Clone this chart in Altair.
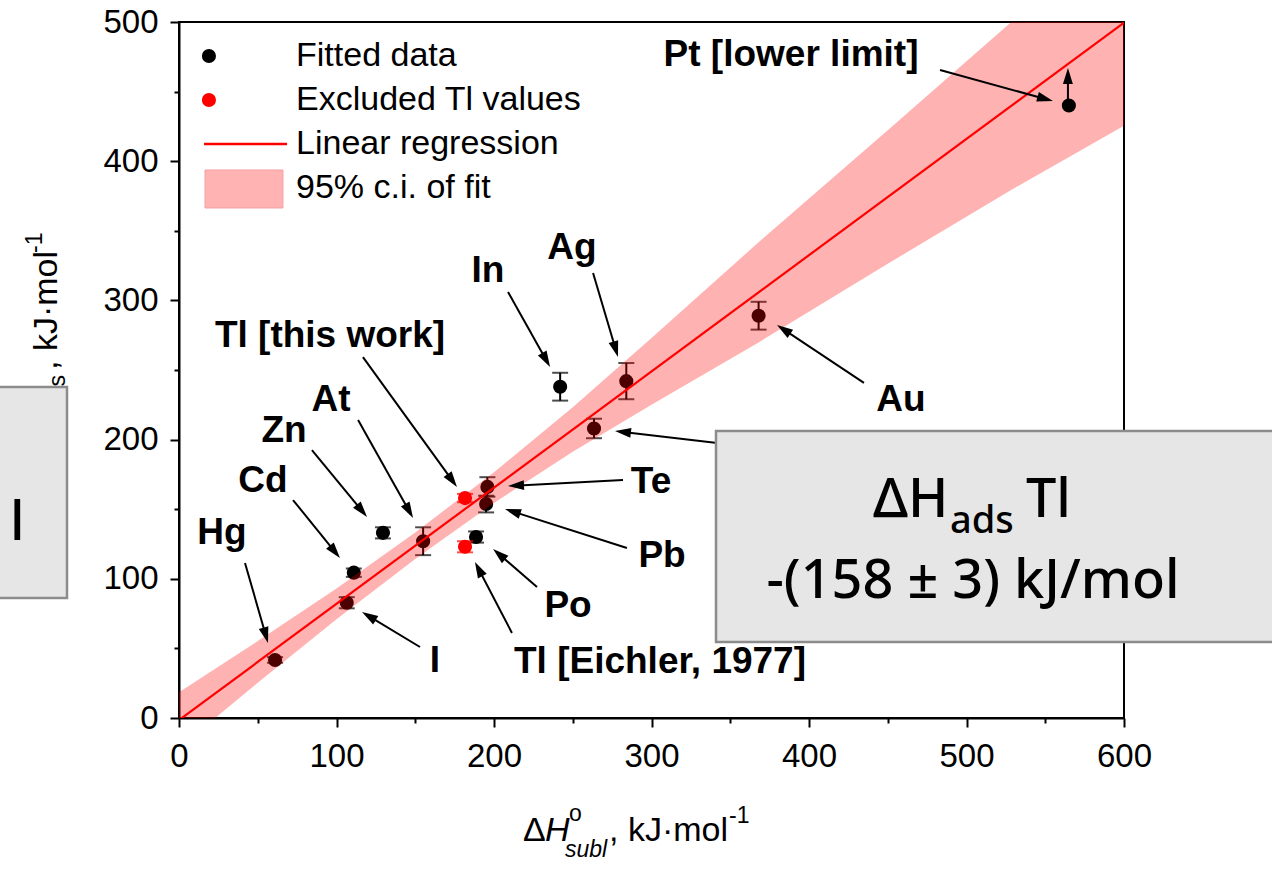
import math
import altair as alt
import pandas as pd

# ---------------- data ----------------
fit_names = ["Hg", "Cd", "I", "Zn", "At", "Po", "Pb", "Te", "In", "Sb", "Ag", "Au"]
fit_x = [61, 111, 106.5, 129.5, 155, 188.6, 195, 195.8, 242, 263.5, 284, 368]
fit_y = [41.7, 104.4, 82.8, 133, 127, 130, 153.7, 166, 238, 208, 242, 289]
fit_err = [2, 3, 4, 4, 10, 4, 6, 7, 10, 7, 13, 10]

# Pt is a lower limit (no error bar)
pt_x = [565]
pt_y = [440]

tl_names = ["Tl [this work]", "Tl [Eichler, 1977]"]
tl_x = [181.6, 181.6]
tl_y = [158, 123]
tl_err = [3, 4]

reg_x = [0, 600]
reg_y = [-1.5, 499.5]

band_x = [0, 50, 100, 150, 200, 250, 300, 368, 450, 527, 600]
band_lo = [-21.5, 25.3, 71, 114.3, 154.5, 191.3, 225, 269.8, 326.3, 378.5, 425.5]
band_hi = [18.5, 55.3, 93, 133.3, 176.5, 223.3, 273, 341.8, 422.3, 498.5, 573.5]

x_tick_values = [0, 50, 100, 150, 200, 250, 300, 350, 400, 450, 500, 550, 600]
y_tick_values = [0, 50, 100, 150, 200, 250, 300, 350, 400, 450, 500]

# annotation labels (data units)
ann_text = ["Pt [lower limit]", "In", "Ag", "Tl [this work]", "At", "Zn", "Cd", "Hg", "I",
            "Te", "Pb", "Po", "Tl [Eichler, 1977]", "Au"]
ann_x = [388.6, 196.2, 249.5, 95.9, 96.5, 66.7, 53.3, 27.3, 162.5, 299.7, 306.7, 247.0, 305.4, 458.4]
ann_y = [476.3, 321.1, 337.6, 274.4, 228.4, 206.2, 170.3, 132.9, 40.9, 169.5, 116.4, 80.5, 40.2, 228.4]

# arrows: start -> tip (data units)
arr_x1 = [483.2, 208.9, 262.9, 116.8, 113.7, 84.4, 72.4, 41.9, 153.0, 281.9, 284.4, 227.3, 211.4, 434.9, 368.9, 564.4]
arr_y1 = [465.5, 306.0, 319.7, 259.3, 214.1, 192.5, 156.6, 111.4, 51.0, 171.0, 122.1, 94.1, 61.1, 240.7, 194.0, 442.5]
arr_x2 = [554.9, 235.6, 278.7, 176.5, 148.6, 119.4, 102.2, 56.5, 116.2, 208.9, 207.0, 199.4, 187.9, 379.7, 276.8, 564.4]
arr_y2 = [443.2, 252.2, 259.3, 165.9, 143.7, 144.4, 114.9, 53.9, 76.1, 166.7, 150.1, 121.4, 112.1, 282.3, 206.2, 467.0]

legend_labels = ["Fitted data", "Excluded Tl values", "Linear regression", "95% c.i. of fit"]

# ---------------- layout ----------------
W, H = 945, 696
PAD = {"left": 179, "top": 22, "right": 148, "bottom": 152}
X_DOM = [0, 600]
Y_DOM = [0, 500]
SX = W / (X_DOM[1] - X_DOM[0])
SY = H / (Y_DOM[1] - Y_DOM[0])
FONT = "Liberation Sans"
BOX_FONT = "Noto Sans"
RED = "#ff0000"
PT_SIZE = 200

xs = alt.Scale(domain=X_DOM, nice=False, zero=False)
ys = alt.Scale(domain=Y_DOM, nice=False, zero=False)

major = "datum.value % 100 === 0"
common_axis = dict(
    title=None, grid=False, labelFont=FONT, labelFontSize=33, labelColor="black",
    labelFlush=False, labelOverlap=False, domainColor="black", domainWidth=2,
    tickColor="black", tickWidth=2,
    labelExpr=f"{major} ? datum.label : ''",
    tickSize={"condition": {"test": major, "value": 9}, "value": 5},
)
x_axis = alt.Axis(values=x_tick_values, labelPadding=13, **common_axis)
y_axis = alt.Axis(values=y_tick_values, labelPadding=12, **common_axis)


def X(f):
    return alt.X(f, type="quantitative", scale=xs, axis=x_axis)


def Y(f):
    return alt.Y(f, type="quantitative", scale=ys, axis=y_axis)


fit_df = pd.DataFrame({"name": fit_names, "x": fit_x, "y": fit_y, "err": fit_err})
fit_df["lo"] = fit_df["y"] - fit_df["err"]
fit_df["hi"] = fit_df["y"] + fit_df["err"]
tl_df = pd.DataFrame({"name": tl_names, "x": tl_x, "y": tl_y, "err": tl_err})
tl_df["lo"] = tl_df["y"] - tl_df["err"]
tl_df["hi"] = tl_df["y"] + tl_df["err"]
pt_df = pd.DataFrame({"x": pt_x, "y": pt_y})


def caps(df):
    return pd.concat([
        pd.DataFrame({"x": df["x"], "y": df["lo"]}),
        pd.DataFrame({"x": df["x"], "y": df["hi"]}),
    ])


layers = []
# error bars (fitted)
layers.append(alt.Chart(fit_df).mark_rule(color="black", strokeWidth=2).encode(
    x=X("x"), y=Y("lo"), y2="hi"))
layers.append(alt.Chart(caps(fit_df)).mark_tick(orient="horizontal", size=16, thickness=2, color="black").encode(
    x=X("x"), y=Y("y")))
layers.append(alt.Chart(fit_df).mark_circle(size=PT_SIZE, color="black", opacity=1).encode(x=X("x"), y=Y("y")))
# excluded Tl
layers.append(alt.Chart(tl_df).mark_rule(color=RED, strokeWidth=2).encode(x=X("x"), y=Y("lo"), y2="hi"))
layers.append(alt.Chart(caps(tl_df)).mark_tick(orient="horizontal", size=16, thickness=2, color=RED).encode(
    x=X("x"), y=Y("y")))
layers.append(alt.Chart(tl_df).mark_circle(size=PT_SIZE, color=RED, opacity=1).encode(x=X("x"), y=Y("y")))

# confidence band + regression line
band_df = pd.DataFrame({"x": band_x, "lo": band_lo, "hi": band_hi})
layers.append(alt.Chart(band_df).mark_area(color=RED, opacity=0.3, clip=True).encode(
    x=X("x"), y=Y("lo"), y2="hi"))
reg_df = pd.DataFrame({"x": reg_x, "y": reg_y})
layers.append(alt.Chart(reg_df).mark_line(color=RED, strokeWidth=2.2, clip=True).encode(x=X("x"), y=Y("y")))

# Pt lower-limit point (drawn on top of the band)
layers.append(alt.Chart(pt_df).mark_circle(size=PT_SIZE, color="black", opacity=1).encode(x=X("x"), y=Y("y")))

# arrows
rows = []
for x1, y1, x2, y2 in zip(arr_x1, arr_y1, arr_x2, arr_y2):
    dxp = (x2 - x1) * SX
    dyp = -(y2 - y1) * SY
    L = math.hypot(dxp, dyp)
    ux, uy = dxp / L, dyp / L
    ang = math.degrees(math.atan2(ux, -uy)) % 360
    rows.append({"x1": x1, "y1": y1, "x2": x2, "y2": y2,
                 "sx2": x2 - 6 * ux / SX, "sy2": y2 + 6 * uy / SY, "angle": ang})
arr_df = pd.DataFrame(rows)
layers.append(alt.Chart(arr_df).mark_rule(color="black", strokeWidth=2).encode(
    x=X("x1"), y=Y("y1"), x2="sx2", y2="sy2"))
layers.append(alt.Chart(arr_df).mark_point(shape="M0,0 L0.62,2 L-0.62,2 Z", filled=True, size=256,
                                           color="black", opacity=1, strokeWidth=0).encode(
    x=X("x2"), y=Y("y2"), angle=alt.Angle("angle:Q", scale=None)))

# annotation labels
ann_df = pd.DataFrame({"t": ann_text, "x": ann_x, "y": ann_y})
layers.append(alt.Chart(ann_df).mark_text(font=FONT, fontSize=37, fontWeight="bold", color="black",
                                          align="center", baseline="middle").encode(
    x=X("x"), y=Y("y"), text="t:N"))

# legend (data-unit placement)
LEG_MX = 19
LEG_TX = 74.3
LEG_ROWS = [475.6, 444.0, 412.4, 380.7]
leg_pts = pd.DataFrame({"x": [LEG_MX, LEG_MX], "y": LEG_ROWS[:2], "c": ["black", RED]})
layers.append(alt.Chart(leg_pts).mark_circle(size=PT_SIZE, opacity=1).encode(
    x=X("x"), y=Y("y"), color=alt.Color("c:N", scale=None)))
layers.append(alt.Chart(pd.DataFrame({"x": [15.9], "x2": [68.6], "y": [LEG_ROWS[2]]})).mark_rule(
    color=RED, strokeWidth=2.5).encode(x=X("x"), x2="x2", y=Y("y")))
layers.append(alt.Chart(pd.DataFrame({"x": [16.5], "x2": [66.0], "y": [366.4], "y2": [393.7]})).mark_rect(
    fill="#ffb3b3", stroke="#f4a0a0", strokeWidth=1).encode(x=X("x"), x2="x2", y=Y("y"), y2="y2"))
leg_txt = pd.DataFrame({"t": legend_labels, "x": [LEG_TX] * 4, "y": LEG_ROWS})
layers.append(alt.Chart(leg_txt).mark_text(font=FONT, fontSize=34, color="black", align="left",
                                           baseline="middle").encode(x=X("x"), y=Y("y"), text="t:N"))

ONE = pd.DataFrame({"k": [0]})


def ptext(txt, px, py, size, font=FONT, **kw):
    return alt.Chart(ONE).mark_text(text=txt, fontSize=size, font=font, color="black",
                                    **({"align": "left", "baseline": "alphabetic"} | kw)).encode(
        x=alt.value(px - PAD["left"]), y=alt.value(py - PAD["top"]))


# x axis title: ΔH°subl, kJ·mol-1
X0 = 523
XB = 841
layers += [
    ptext("Δ", X0, XB, 34),
    ptext("H", X0 + 22, XB, 34, fontStyle="italic"),
    ptext("o", X0 + 46, XB - 20, 23),
    ptext("subl", X0 + 42, XB + 16, 23, fontStyle="italic"),
    ptext(", kJ·mol", X0 + 86, XB, 34),
    ptext("-1", X0 + 206, XB - 18, 23),
]

# y axis title (rotated)
YB = 57
layers += [
    ptext("ΔH", YB, 455, 34, angle=270),
    ptext("ads", YB + 8, 412, 23, angle=270),
    ptext(", kJ·mol", YB, 370, 34, angle=270),
    ptext("-1", YB - 15, 253, 23, angle=270),
]

# grey overlay boxes
def pbox(px1, px2, py1, py2):
    return alt.Chart(ONE).mark_rect(fill="#e6e6e6", stroke="#8c8c8c", strokeWidth=2.5).encode(
        x=alt.value(px1 - PAD["left"]), x2=alt.value(px2 - PAD["left"]),
        y=alt.value(py1 - PAD["top"]), y2=alt.value(py2 - PAD["top"]))


layers += [
    pbox(-20, 67, 387, 598),
    ptext("l", 10, 540, 54, font=BOX_FONT, fontWeight=500),
    pbox(716, 1300, 431, 642),
    ptext("ΔH", 873, 517, 54, font=BOX_FONT, fontWeight=500),
    ptext("ads", 950, 533, 38, font=BOX_FONT, fontWeight=500),
    ptext("Tl", 1026, 517, 54, font=BOX_FONT, fontWeight=500),
    ptext("-(158 ± 3) kJ/mol", 973, 598, 54, font=BOX_FONT, fontWeight=500, align="center"),
]

chart = alt.layer(*layers).properties(
    width=W, height=H, padding=PAD, autosize=alt.AutoSizeParams(type="none"),
    background="white",
).configure_view(stroke="black", strokeWidth=2)

chart.save("out.html", embed_options={"renderer": "svg", "actions": False})
